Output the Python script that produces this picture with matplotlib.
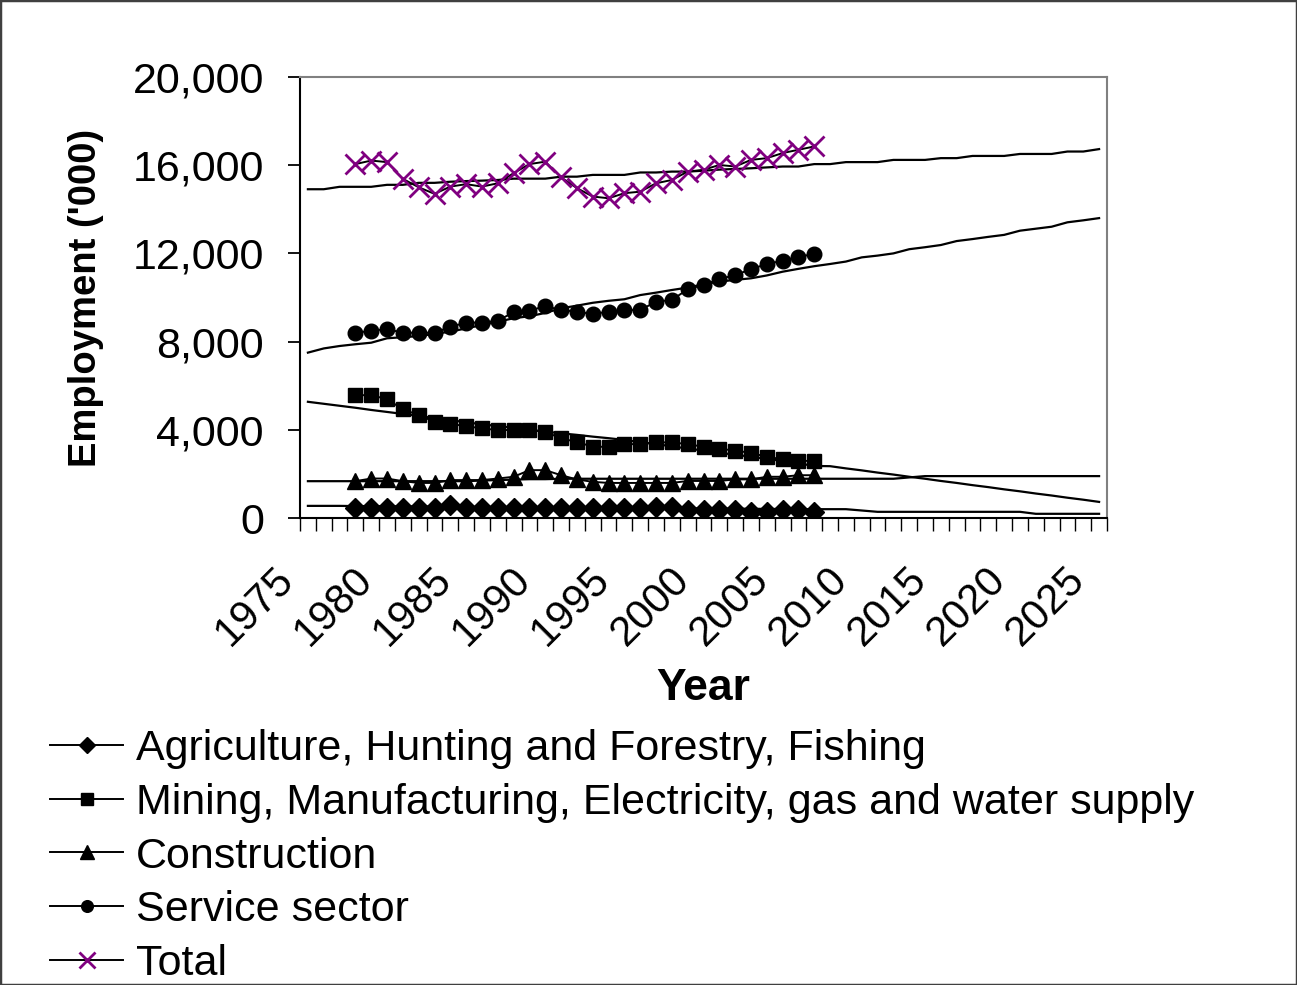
import matplotlib.pyplot as plt
from matplotlib.patches import Rectangle
from matplotlib.ticker import FixedLocator, FuncFormatter
import matplotlib.transforms as mtransforms

plt.rcParams['font.family'] = ['Liberation Sans', 'DejaVu Sans']

# years on the category axis, and years with observed data
years = list(range(1975, 2026))
obs_years = list(range(1978, 2008))

# observed employment ('000)
agri = [460, 460, 460, 460, 460, 460, 580, 460, 460, 460, 460, 460, 460, 460,
        460, 460, 460, 460, 460, 500, 500, 370, 370, 370, 370, 270, 270, 370, 370, 270]
mining = [5570, 5570, 5390, 4930, 4670, 4360, 4260, 4170, 4060, 3990, 3990, 3990, 3910, 3610,
          3450, 3230, 3230, 3350, 3350, 3430, 3430, 3350, 3230, 3150, 3050, 2960, 2770, 2670, 2590, 2590]
constr = [1670, 1790, 1790, 1670, 1590, 1590, 1720, 1720, 1720, 1790, 1870, 2170, 2170, 1940,
          1750, 1640, 1590, 1590, 1590, 1590, 1590, 1680, 1680, 1680, 1750, 1750, 1870, 1870, 1940, 1940]
service = [8400, 8490, 8570, 8400, 8400, 8400, 8670, 8860, 8860, 8950, 9330, 9400, 9610, 9430,
           9360, 9250, 9360, 9430, 9430, 9810, 9890, 10370, 10570, 10830, 11020, 11280, 11520, 11670, 11850, 11970]
total = [16050, 16210, 16140, 15380, 15000, 14700, 15030, 15140, 15030, 15180, 15640, 16050, 16160, 15450,
         14960, 14580, 14500, 14730, 14800, 15180, 15330, 15710, 15790, 16010, 15940, 16240, 16320, 16550, 16700, 16850]

# fitted / projected lines 1975-2025 ('000)
agri_fit = [550, 550, 550, 540, 540, 530, 530, 520, 520, 510,
            510, 500, 500, 490, 490, 480, 480, 470, 470, 460,
            460, 450, 450, 440, 440, 430, 430, 420, 420, 410,
            410, 400, 400, 400, 400, 340, 280, 280, 280, 280,
            280, 280, 280, 280, 280, 280, 190, 190, 190, 190, 190]
mining_fit = [5270, 5180, 5090, 5000, 4900, 4810, 4720, 4630, 4530, 4440,
              4340, 4250, 4170, 4090, 4000, 3920, 3840, 3770, 3690, 3620,
              3540, 3440, 3350, 3250, 3150, 3060, 2960, 2870, 2780, 2680,
              2590, 2480, 2360, 2350, 2250, 2160, 2060, 1970, 1870, 1780,
              1680, 1590, 1490, 1400, 1300, 1210, 1110, 1020, 920, 830, 730]
constr_fit = [1670] * 10 + [1670, 1700, 1720, 1740, 1760, 1760, 1780, 1780, 1780, 1780] + \
             [1780] * 18 + [1840] + [1900] * 12
service_fit = [7500, 7690, 7800, 7880, 7950, 8150, 8200, 8250, 8350, 8450,
               8600, 8750, 8900, 9060, 9150, 9300, 9510, 9630, 9760, 9850,
               9920, 10110, 10220, 10340, 10450, 10600, 10720, 10800, 10870, 11000,
               11170, 11300, 11420, 11520, 11630, 11820, 11900, 12000, 12190, 12280,
               12380, 12560, 12650, 12750, 12840, 13030, 13120, 13210, 13410, 13500, 13600]
total_fit = [14910, 14910, 15020, 15020, 15020, 15110, 15110, 15200, 15200, 15250,
             15280, 15300, 15330, 15390, 15390, 15390, 15480, 15480, 15560, 15560,
             15560, 15670, 15670, 15710, 15710, 15750, 15800, 15830, 15860, 15900,
             15940, 15940, 16050, 16050, 16140, 16140, 16140, 16240, 16240, 16240,
             16320, 16320, 16420, 16420, 16420, 16510, 16510, 16510, 16620, 16620, 16730]

labels = ['Agriculture, Hunting and Forestry, Fishing',
          'Mining, Manufacturing, Electricity, gas and water supply',
          'Construction', 'Service sector', 'Total']

fig = plt.figure(figsize=(12.97, 9.85), dpi=100)
ax = fig.add_axes([300 / 1297, 1 - 518 / 985, 807 / 1297, 441 / 985])

for fit in [agri_fit, mining_fit, constr_fit, service_fit, total_fit]:
    ax.plot(years, fit, color='black', lw=1.6, zorder=2)

ax.plot(obs_years, agri, color='black', lw=1.4, marker='D', ms=10.5, label=labels[0], zorder=3)
ax.plot(obs_years, mining, color='black', lw=1.4, marker='s', ms=10.5, label=labels[1], zorder=3)
ax.plot(obs_years, constr, color='black', lw=1.4, marker='^', ms=12, label=labels[2], zorder=3)
ax.plot(obs_years, service, color='black', lw=1.4, marker='o', ms=10.5, label=labels[3], zorder=3)
ax.plot(obs_years, total, color='black', lw=1.4, marker='x', ms=14, mew=2,
        mec='#800080', label=labels[4], zorder=3)

ax.set_xlim(1974.5, 2025.5)
ax.set_ylim(0, 20000)
ax.set_yticks(range(0, 20001, 4000))
ax.yaxis.set_major_formatter(FuncFormatter(lambda v, p: f'{int(v):,}'))
ax.tick_params(axis='y', direction='out', length=9, width=1.3, labelsize=31, pad=17)

# category boundaries as tick marks, year labels every 5
ax.xaxis.set_minor_locator(FixedLocator([y - 0.5 for y in range(1975, 2027)]))
ax.set_xticks(range(1975, 2026, 5))
ax.tick_params(axis='x', which='minor', direction='out', length=9, width=1.0)
ax.tick_params(axis='x', which='major', length=0, labelsize=30, pad=30)
offset = mtransforms.ScaledTranslation(-6 / 100, 0, fig.dpi_scale_trans)
for lab in ax.get_xticklabels():
    lab.set_rotation(45)
    lab.set_ha('right')
    lab.set_va('top')
    lab.set_transform(lab.get_transform() + offset)

for side in ['top', 'right']:
    ax.spines[side].set_color('#808080')
    ax.spines[side].set_linewidth(1.5)
for side in ['left', 'bottom']:
    ax.spines[side].set_color('black')
    ax.spines[side].set_linewidth(1.5)

ax.set_ylabel("Employment ('000)", fontsize=27.5, fontweight='bold')
ax.yaxis.set_label_coords(-0.243, 0.5)
ax.set_xlabel('Year', fontsize=32, fontweight='bold', va='top')
ax.xaxis.set_label_coords(0.5, -0.34)

fig.legend(loc='upper left', bbox_to_anchor=(50 / 1297, 1 - 729 / 985), frameon=False,
           fontsize=31, handlelength=1.7, handletextpad=0.3, labelspacing=0.32,
           borderpad=0, borderaxespad=0, markerscale=0.8)

fig.patches.append(Rectangle((0, 0), 1, 1, transform=fig.transFigure, fill=False,
                             ec='#404040', lw=2.5))

fig.savefig('out.png', dpi=100)
